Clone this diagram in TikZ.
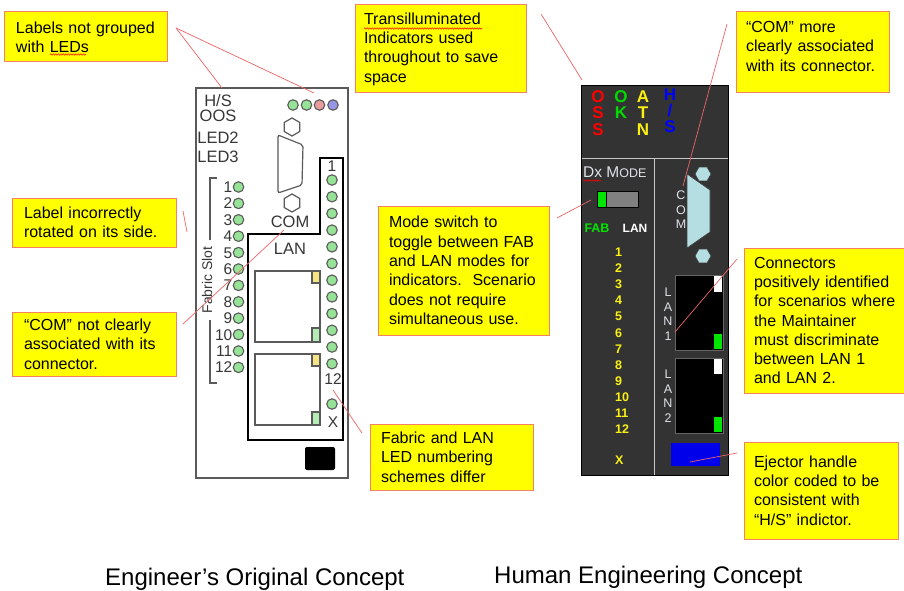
\documentclass[tikz,border=0pt]{standalone}
\usepackage{fontspec}
\setmainfont{Liberation Sans}
\usetikzlibrary{decorations.pathmorphing}

\definecolor{calloutfill}{RGB}{255,255,0}
\definecolor{calloutedge}{RGB}{246,128,100}
\definecolor{leadercol}{RGB}{238,100,100}
\definecolor{caseedge}{RGB}{90,90,90}
\definecolor{ledgreen}{RGB}{150,226,150}
\definecolor{ledpink}{RGB}{232,156,156}
\definecolor{ledblue}{RGB}{150,150,228}
\definecolor{ledyellow}{RGB}{245,228,130}
\definecolor{inktext}{RGB}{55,55,55}
\definecolor{panelgray}{RGB}{51,51,51}
\definecolor{panelline}{RGB}{200,200,200}
\definecolor{panelink}{RGB}{222,226,232}
\definecolor{dsubblue}{RGB}{180,222,226}
\definecolor{litgreen}{RGB}{0,230,0}
\definecolor{modegray}{RGB}{128,128,128}
\definecolor{ejectblue}{RGB}{0,0,235}
\definecolor{numyellow}{RGB}{250,240,20}
\definecolor{osred}{RGB}{255,0,0}
\definecolor{okgreen}{RGB}{0,220,0}
\definecolor{hsblue}{RGB}{0,0,255}

\begin{document}
\begin{tikzpicture}[x=1pt,y=-1pt,
  callout/.style={draw=calloutedge, line width=1pt, fill=calloutfill, inner sep=0pt,
    align=left, text=black, font=\fontsize{16}{19.3}\selectfont},
  leader/.style={draw=leadercol, line width=0.7pt},
  title/.style={font=\fontsize{24}{24}\selectfont, inner sep=0pt, anchor=base west},
  lefttxt/.style={font=\fontsize{16.5}{16.5}\selectfont, text=inktext, text height=11.8pt, text depth=0pt, inner sep=0pt},
  fabnum/.style={font=\fontsize{15.5}{15.5}\selectfont, text=inktext, text height=11.1pt, text depth=0pt, inner sep=0pt},
  led/.style={circle, draw=caseedge, line width=1.1pt, fill=ledgreen, minimum size=10.5pt, inner sep=0pt},
  port/.style={draw=caseedge, line width=1.2pt},
  ind/.style={font=\fontsize{17}{17}\selectfont\bfseries, text height=12.2pt, text depth=0pt, inner sep=0pt},
  paneltxt/.style={font=\fontsize{12.5}{12.5}\selectfont, text=panelink, text height=9pt, text depth=0pt, inner sep=0pt},
  slotnum/.style={font=\fontsize{12.5}{12.5}\selectfont\bfseries, text=numyellow, text height=9pt, text depth=0pt, inner sep=0pt, anchor=west},
  spell/.style={draw=red, line width=0.5pt, decorate, decoration={snake, amplitude=0.7pt, segment length=2.5pt}}
]
\useasboundingbox (0,0) rectangle (904,591);
\fill[white] (0,0) rectangle (904,591);

% ---------------- Engineer's original concept ----------------
\node[draw=caseedge, line width=1.5pt, minimum width=152pt, minimum height=390pt, inner sep=0pt] (eng) at (272,283) {};

\node[lefttxt] (lhs) at (218,101) {H/S};
\node[lefttxt] (loos) at (218,116) {OOS};
\node[lefttxt] (lled2) at (218,138) {LED2};
\node[lefttxt] (lled3) at (218,157) {LED3};

\node[led] (s1) at (293,105) {};
\node[led] (s2) at (306.5,105) {};
\node[led, fill=ledpink] (s3) at (319.5,105) {};
\node[led, fill=ledblue] (s4) at (333,105) {};

% serial connector with its two screw hexagons
\draw[caseedge, line width=1.2pt] (292,127) +(90:9) -- +(150:9) -- +(210:9) -- +(270:9) -- +(330:9) -- +(30:9) -- cycle;
\draw[caseedge, line width=1.2pt, rounded corners=2pt] (278,135) -- (303,145) -- (302,185) -- (278,193) -- cycle;
\draw[caseedge, line width=1.2pt] (292,203) +(90:9) -- +(150:9) -- +(210:9) -- +(270:9) -- +(330:9) -- +(30:9) -- cycle;
\node[lefttxt] (lcom) at (290,222) {COM};

% LAN area outline
\draw[black, line width=1.8pt] (320,158) -- (343,158) -- (343,440) -- (248,440) -- (248,234) -- (320,234) -- cycle;
\node[lefttxt] (llan) at (290,249) {LAN};

% LAN ports
\draw[port] (255,271) rectangle (320,342);
\draw[port, fill=ledyellow] (312,271) rectangle (320,283);
\draw[port, fill=ledgreen!70] (312,328) rectangle (320,342);
\draw[port] (255,354) rectangle (320,425);
\draw[port, fill=ledyellow] (312,354) rectangle (320,366);
\draw[port, fill=ledgreen!70] (312,412) rectangle (320,425);

% LAN LED column
\node[fabnum] (rn1) at (332,166) {1};
\foreach \k in {0,...,11}
  \node[led] (r\k) at (332,{180+16.7*\k}) {};
\node[fabnum] (rn12) at (333,379) {12};
\node[led] (rx) at (332,404) {};
\node[fabnum] (rnx) at (333,422) {X};

% ejector
\fill[black, rounded corners=2pt] (305,447) rectangle (335,470);

% fabric slot column
\draw[caseedge, line width=1.4pt] (217,178) -- (210,178) -- (210,240);
\draw[caseedge, line width=1.4pt] (210,320) -- (210,383) -- (217,383);
\node[fabnum, font=\fontsize{14}{14}\selectfont, text height=10pt, rotate=90] (fslot) at (207,280) {Fabric Slot};
\foreach \k in {1,...,12} {
  \node[fabnum, anchor=east] (fn\k) at (232.5,{187+16.4*(\k-1)}) {\k};
  \node[led] (fl\k) at (238.5,{187+16.4*(\k-1)}) {};
}

% ---------------- Human engineering concept ----------------
\node[fill=panelgray, draw=black, line width=0.8pt, minimum width=147pt, minimum height=390pt, inner sep=0pt] (hum) at (654.5,280) {};
\draw[panelline, line width=1pt] (581.5,158) -- (727.5,158);
\draw[panelline, line width=1pt] (654,158) -- (654,474.5);

% transilluminated indicators
\foreach \l [count=\i from 0] in {O,S,S}
  \node[ind, text=osred] (oss\i) at (598,{96+16.5*\i}) {\l};
\foreach \l [count=\i from 0] in {O,K}
  \node[ind, text=okgreen] (ok\i) at (621,{96+16.5*\i}) {\l};
\foreach \l [count=\i from 0] in {A,T,N}
  \node[ind, text=numyellow] (atn\i) at (643,{96+16.5*\i}) {\l};
\foreach \l [count=\i from 0] in {H,/,S}
  \node[ind, text=hsblue] (hs\i) at (670,{94+16*\i}) {\l};

% mode switch
\node[anchor=base west, inner sep=0pt, text=panelink, font=\fontsize{15.5}{15.5}\selectfont] (dxmode) at (583,177) {Dx M{\fontsize{12.5}{12.5}\selectfont ODE}};
\draw[spell] (583,180.5) -- (601,180.5);
\draw[black, fill=modegray, line width=0.8pt] (597,191) rectangle (638,207);
\draw[black, fill=litgreen, line width=0.8pt] (597,191) rectangle (606,207);
\node[font=\fontsize{12.5}{12.5}\selectfont\bfseries, text=litgreen, text height=9pt, text depth=0pt, inner sep=0pt] (fab) at (597,228) {FAB};
\node[font=\fontsize{12}{12}\selectfont\bfseries, text=white, text height=8.6pt, text depth=0pt, inner sep=0pt] (lan) at (635,228) {LAN};

\foreach \k in {1,...,12}
  \node[slotnum] (sn\k) at (615,{252+16.1*(\k-1)}) {\k};
\node[slotnum] (snx) at (615,460) {X};

% serial connector
\draw[fill=dsubblue, draw=black!75, line width=0.6pt] (687,174) -- (710,190) -- (710,232) -- (687,248) -- cycle;
\draw[fill=dsubblue, draw=black!75, line width=0.6pt] (703,174) +(0:8) -- +(60:8) -- +(120:8) -- +(180:8) -- +(240:8) -- +(300:8) -- cycle;
\draw[fill=dsubblue, draw=black!75, line width=0.6pt] (703,256) +(0:8) -- +(60:8) -- +(120:8) -- +(180:8) -- +(240:8) -- +(300:8) -- cycle;
\foreach \l [count=\i from 0] in {C,O,M}
  \node[paneltxt] (com\i) at (681,{195+14.5*\i}) {\l};

% LAN ports
\draw[fill=black, draw=black!60, line width=0.6pt] (675,275) rectangle (723,350);
\fill[white] (714,276) rectangle (722,292);
\fill[litgreen] (714,334) rectangle (722,349);
\draw[fill=black, draw=black!60, line width=0.6pt] (675,358) rectangle (723,433);
\fill[white] (714,359) rectangle (722,374);
\fill[litgreen] (714,417) rectangle (722,432);
\foreach \l [count=\i from 0] in {L,A,N,1}
  \node[paneltxt] (lana\i) at (668,{292+14.7*\i}) {\l};
\foreach \l [count=\i from 0] in {L,A,N,2}
  \node[paneltxt] (lanb\i) at (668,{374+14.7*\i}) {\l};

% ejector handle
\draw[fill=ejectblue, draw=black!80, line width=0.8pt] (670,442) rectangle (720,466);

% ---------------- callouts ----------------
\node[callout, minimum width=163pt, minimum height=50pt, text width=139pt] (c1) at (85.5,37) {Labels not grouped\\with LEDs};
\draw[spell] (50,54.5) -- (86,54.5);
\node[callout, minimum width=171pt, minimum height=88pt, text width=153pt] (c2) at (440.5,49) {Transilluminated\\Indicators used\\throughout to save\\space};
\draw[spell] (364,28.5) -- (482,28.5);
\node[callout, minimum width=153pt, minimum height=81pt, text width=133pt] (c3) at (812.5,52.5) {“COM” more\\clearly associated\\with its connector.\\[-7pt]\mbox{}};
\node[callout, minimum width=164pt, minimum height=49pt, text width=140pt] (c4) at (94,222.5) {Label incorrectly\\rotated on its side.};
\node[callout, minimum width=164pt, minimum height=64pt, text width=140pt] (c5) at (94,344) {“COM” not clearly\\associated with its\\connector.};
\node[callout, minimum width=171pt, minimum height=129pt, text width=149pt] (c6) at (463.5,270.5) {Mode switch to\\toggle between FAB\\and LAN modes for\\indicators.\ \ Scenario\\does not require\\simultaneous use.};
\node[callout, minimum width=163pt, minimum height=66pt, text width=141pt] (c7) at (451.5,457) {Fabric and LAN\\LED numbering\\schemes differ};
\node[callout, minimum width=164pt, minimum height=145pt, text width=144pt] (c8) at (826,320.5) {\mbox{Connectors}\\\mbox{positively identified}\\\mbox{for scenarios where}\\\mbox{the Maintainer}\\\mbox{must discriminate}\\\mbox{between LAN 1}\\\mbox{and LAN 2.}};
\node[callout, minimum width=154pt, minimum height=97pt, text width=134pt] (c9) at (821,490.5) {Ejector handle\\color coded to be\\consistent with\\“H/S” indictor.};

% leader lines
\coordinate (p1) at (176,28);
\coordinate (q1a) at (222,88);
\coordinate (q1b) at (314,93);
\coordinate (p2) at (541,14);
\coordinate (q2) at (582,80);
\coordinate (p3) at (727,24);
\coordinate (q3) at (683,186);
\coordinate (p4) at (183,211);
\coordinate (q4) at (187,232);
\coordinate (p5) at (183,324);
\coordinate (q5) at (284,230);
\coordinate (p6) at (557,218);
\coordinate (q6) at (591,200);
\coordinate (p7) at (362,433);
\coordinate (q7) at (333,390);
\coordinate (p8) at (737,259);
\coordinate (q8) at (675,332);
\coordinate (p9) at (737,453);
\coordinate (q9) at (690,462);
\draw[leader] (p1) -- (q1a);
\draw[leader] (p1) -- (q1b);
\draw[leader] (p2) -- (q2);
\draw[leader] (p3) -- (q3);
\draw[leader] (p4) -- (q4);
\draw[leader] (p5) -- (q5);
\draw[leader] (p6) -- (q6);
\draw[leader] (p7) -- (q7);
\draw[leader] (p8) -- (q8);
\draw[leader] (p9) -- (q9);

% ---------------- titles ----------------
\node[title] (t1) at (105,585) {Engineer’s Original Concept};
\node[title] (t2) at (494,583) {Human Engineering Concept};
\end{tikzpicture}
\end{document}
